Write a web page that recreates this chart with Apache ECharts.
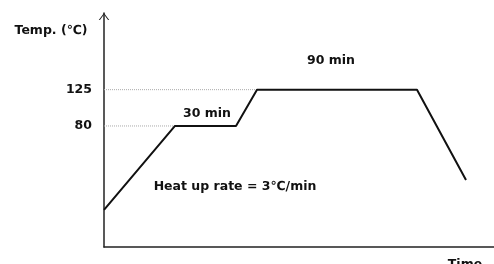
<!DOCTYPE html>
<html>
<head>
<meta charset="utf-8">
<script src="https://cdn.jsdelivr.net/npm/echarts@6/dist/echarts.min.js"></script>
<style>
  html, body { margin: 0; padding: 0; background: #fff; }
  #chart { width: 494px; height: 264px; }
</style>
</head>
<body>
<div id="chart"></div>
<script>
// 温度曲线（示意图，横轴为相对时间刻度）
const times = [0, 35.5, 66, 76.5, 156.5, 181];
const temps = [-24, 80, 80, 125, 125, 13];
// 虚线参考：从纵轴到平台起点
const guide80 = [[0, 80], [35.5, 80]];
const guide125 = [[0, 125], [76.5, 125]];
const yTicks = [80, 125];

const font = '"DejaVu Sans", sans-serif';
const chart = echarts.init(document.getElementById('chart'), null, { renderer: 'canvas' });

const option = {
  animation: false,
  grid: { left: 104, top: 13, right: 0, bottom: 17 },
  xAxis: {
    type: 'value', min: 0, max: 195,
    axisLine: { onZero: false, lineStyle: { color: '#222', width: 1.5 } },
    axisTick: { show: false },
    axisLabel: { show: false },
    splitLine: { show: false }
  },
  yAxis: {
    type: 'value', min: -70, max: 220, interval: 5,
    axisLine: {
      show: true,
      onZero: false,
      lineStyle: { color: '#222', width: 1.5 },
      symbol: ['none', 'path://M0,8 L6,0 L12,8 L10.6,8 L6,1.8 L1.4,8 Z'],
      symbolSize: [11, 7],
      symbolOffset: [0, -3.5]
    },
    axisTick: { show: false },
    splitLine: { show: false },
    axisLabel: {
      margin: 12,
      color: '#111',
      fontFamily: font,
      fontWeight: 'bold',
      fontSize: 12.5,
      formatter: v => (yTicks.includes(v) ? String(v) : '')
    }
  },
  series: [
    {
      type: 'line', data: guide80, symbol: 'none', z: 1,
      lineStyle: { color: '#aaa', width: 1, type: 'dotted' }
    },
    {
      type: 'line', data: guide125, symbol: 'none', z: 1,
      lineStyle: { color: '#aaa', width: 1, type: 'dotted' }
    },
    {
      type: 'line', data: times.map((t, i) => [t, temps[i]]), symbol: 'none', z: 3,
      lineStyle: { color: '#111', width: 2 }
    }
  ],
  graphic: [
    { type: 'text', x: 51, y: 31, style: { text: 'Temp. (℃)', font: 'bold 12.5px ' + font, fill: '#111', align: 'center', verticalAlign: 'middle' } },
    { type: 'text', x: 207, y: 114, style: { text: '30 min', font: 'bold 12.5px ' + font, fill: '#111', align: 'center', verticalAlign: 'middle' } },
    { type: 'text', x: 331, y: 61, style: { text: '90 min', font: 'bold 12.5px ' + font, fill: '#111', align: 'center', verticalAlign: 'middle' } },
    { type: 'text', x: 235, y: 187, style: { text: 'Heat up rate = 3℃/min', font: 'bold 12.5px ' + font, fill: '#111', align: 'center', verticalAlign: 'middle' } },
    { type: 'text', x: 465, y: 265, style: { text: 'Time', font: 'bold 12.5px ' + font, fill: '#111', align: 'center', verticalAlign: 'middle' } }
  ]
};
chart.setOption(option);
</script>
</body>
</html>
